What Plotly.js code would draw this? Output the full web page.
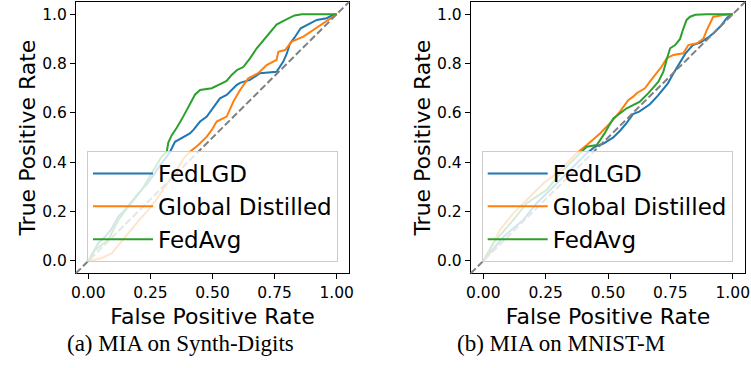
<!DOCTYPE html>
<html>
<head>
<meta charset="utf-8">
<script src="https://cdn.plot.ly/plotly-3.0.1.min.js"></script>
<style>html,body{margin:0;padding:0;background:#fff;}#chart{width:751px;height:368px;}</style>
</head>
<body>
<div id="chart"></div>
<script>
// ---------- data ----------
const seriesNames = ["FedLGD", "Global Distilled", "FedAvg"];
const seriesColors = ["#1f77b4", "#ff7f0e", "#2ca02c"];
const xTickVals = [0, 0.25, 0.5, 0.75, 1];
const xTickText = ["0.00", "0.25", "0.50", "0.75", "1.00"];
const yTickVals = [0, 0.2, 0.4, 0.6, 0.8, 1.0];
const yTickText = ["0.0", "0.2", "0.4", "0.6", "0.8", "1.0"];
const captions = ["(a) MIA on Synth-Digits", "(b) MIA on MNIST-M"];
const axisTitleX = "False Positive Rate";
const axisTitleY = "True Positive Rate";

// (a) Synth-Digits
const synthFedLGD_fpr = [0, 0.04, 0.067, 0.09, 0.121, 0.15, 0.201, 0.235, 0.268, 0.29, 0.316, 0.329, 0.349, 0.389, 0.409, 0.423, 0.45, 0.477, 0.5, 0.53, 0.557, 0.597, 0.611, 0.651, 0.691, 0.758, 0.785, 0.799, 0.812, 0.83, 0.855, 0.893, 0.92, 0.96, 0.985, 1];
const synthFedLGD_tpr = [0, 0.072, 0.098, 0.125, 0.18, 0.21, 0.274, 0.31, 0.355, 0.39, 0.423, 0.443, 0.483, 0.504, 0.517, 0.531, 0.565, 0.585, 0.619, 0.659, 0.673, 0.713, 0.722, 0.734, 0.761, 0.767, 0.808, 0.84, 0.882, 0.905, 0.943, 0.962, 0.977, 0.984, 0.997, 1];
const synthGD_fpr = [0, 0.05, 0.094, 0.148, 0.2, 0.242, 0.275, 0.309, 0.35, 0.389, 0.409, 0.443, 0.477, 0.497, 0.517, 0.557, 0.584, 0.611, 0.644, 0.684, 0.718, 0.758, 0.765, 0.792, 0.819, 0.866, 0.906, 0.946, 0.986, 1];
const synthGD_tpr = [0, 0.01, 0.031, 0.098, 0.16, 0.207, 0.25, 0.301, 0.36, 0.423, 0.443, 0.47, 0.504, 0.531, 0.565, 0.585, 0.646, 0.693, 0.74, 0.761, 0.794, 0.815, 0.848, 0.855, 0.889, 0.909, 0.936, 0.963, 0.99, 1];
const synthFedAvg_fpr = [0, 0.027, 0.08, 0.121, 0.161, 0.215, 0.255, 0.295, 0.316, 0.322, 0.336, 0.356, 0.382, 0.409, 0.43, 0.45, 0.497, 0.537, 0.557, 0.577, 0.6, 0.624, 0.651, 0.678, 0.718, 0.74, 0.758, 0.78, 0.8, 0.83, 0.86, 1];
const synthFedAvg_tpr = [0, 0.045, 0.085, 0.166, 0.22, 0.288, 0.355, 0.423, 0.443, 0.48, 0.51, 0.54, 0.585, 0.639, 0.675, 0.693, 0.70, 0.72, 0.73, 0.754, 0.775, 0.786, 0.821, 0.862, 0.909, 0.935, 0.958, 0.97, 0.98, 0.995, 1, 1];

// (b) MNIST-M
const mnistFedLGD_fpr = [0, 0.081, 0.16, 0.214, 0.281, 0.348, 0.415, 0.448, 0.48, 0.52, 0.55, 0.575, 0.6, 0.625, 0.668, 0.7, 0.74, 0.762, 0.785, 0.81, 0.84, 0.87, 0.9, 0.925, 0.95, 0.976, 0.99, 1];
const mnistFedLGD_tpr = [0, 0.098, 0.166, 0.234, 0.301, 0.369, 0.437, 0.463, 0.475, 0.5, 0.53, 0.56, 0.595, 0.605, 0.635, 0.67, 0.72, 0.76, 0.8, 0.84, 0.875, 0.885, 0.905, 0.925, 0.95, 0.984, 0.997, 1];
const mnistGD_fpr = [0, 0.027, 0.067, 0.12, 0.174, 0.241, 0.294, 0.348, 0.374, 0.415, 0.455, 0.468, 0.515, 0.548, 0.581, 0.601, 0.615, 0.648, 0.668, 0.695, 0.715, 0.735, 0.762, 0.802, 0.822, 0.856, 0.882, 0.896, 0.909, 0.922, 0.936, 0.962, 1];
const mnistGD_tpr = [0, 0.045, 0.126, 0.193, 0.247, 0.315, 0.355, 0.409, 0.437, 0.47, 0.504, 0.517, 0.565, 0.605, 0.652, 0.666, 0.68, 0.7, 0.727, 0.761, 0.788, 0.821, 0.835, 0.842, 0.875, 0.882, 0.9, 0.936, 0.96, 0.99, 0.992, 0.997, 1];
const mnistFedAvg_fpr = [0, 0.04, 0.12, 0.174, 0.254, 0.321, 0.388, 0.415, 0.455, 0.485, 0.521, 0.575, 0.628, 0.662, 0.702, 0.722, 0.735, 0.749, 0.769, 0.789, 0.8, 0.815, 0.829, 0.85, 0.896, 1];
const mnistFedAvg_tpr = [0, 0.072, 0.166, 0.234, 0.288, 0.369, 0.437, 0.463, 0.47, 0.515, 0.578, 0.619, 0.646, 0.68, 0.727, 0.767, 0.815, 0.862, 0.875, 0.9, 0.936, 0.977, 0.99, 0.998, 1, 1];

// ---------- build ----------
const panels = [
  {fpr: [synthFedLGD_fpr, synthGD_fpr, synthFedAvg_fpr], tpr: [synthFedLGD_tpr, synthGD_tpr, synthFedAvg_tpr], xa: "x", ya: "y", legend: "legend"},
  {fpr: [mnistFedLGD_fpr, mnistGD_fpr, mnistFedAvg_fpr], tpr: [mnistFedLGD_tpr, mnistGD_tpr, mnistFedAvg_tpr], xa: "x2", ya: "y2", legend: "legend2"}
];
const traces = [];
panels.forEach(p => {
  for (let i = 0; i < 3; i++) {
    traces.push({
      type: "scatter", mode: "lines",
      x: p.fpr[i], y: p.tpr[i], name: seriesNames[i],
      xaxis: p.xa, yaxis: p.ya, legend: p.legend,
      line: {color: seriesColors[i], width: 2}
    });
  }
});

const FONT = "DejaVu Sans, sans-serif";
function xAxis(domain, anchor) {
  return {
    domain: domain, anchor: anchor, range: [-0.05, 1.05],
    tickmode: "array", tickvals: xTickVals, ticktext: xTickText,
    ticks: "outside", ticklen: 5, tickwidth: 1, tickcolor: "#000",
    showline: true, mirror: true, linecolor: "#000", linewidth: 1,
    showgrid: false, zeroline: false,
    tickfont: {family: FONT, size: 15.5, color: "#000"},
    title: {text: axisTitleX, font: {family: FONT, size: 22, color: "#000"}, standoff: 7}
  };
}
function yAxis(domain, anchor) {
  return {
    domain: domain, anchor: anchor, range: [-0.05, 1.05],
    tickmode: "array", tickvals: yTickVals, ticktext: yTickText,
    ticks: "outside", ticklen: 5, tickwidth: 1, tickcolor: "#000",
    showline: true, mirror: true, linecolor: "#000", linewidth: 1,
    showgrid: false, zeroline: false,
    tickfont: {family: FONT, size: 15.5, color: "#000"},
    title: {text: axisTitleY, font: {family: FONT, size: 22, color: "#000"}, standoff: 0}
  };
}
function legendBox(x) {
  return {
    x: x, y: 1 - 151 / 368, xanchor: "left", yanchor: "top",
    bgcolor: "rgba(255,255,255,0.8)", bordercolor: "#cccccc", borderwidth: 1,
    font: {family: FONT, size: 23, color: "#000"},
    tracegroupgap: 0, itemwidth: 60
  };
}
const diag = (xr, yr) => ({
  type: "line", xref: xr + " domain", yref: yr + " domain",
  x0: 0, y0: 0, x1: 1, y1: 1, layer: "above",
  line: {color: "#808080", width: 2, dash: "7px,3px"}
});

const layout = {
  width: 751, height: 368,
  margin: {l: 0, r: 0, t: 0, b: 0},
  paper_bgcolor: "#fff", plot_bgcolor: "#fff",
  font: {family: FONT, color: "#000"},
  showlegend: true,
  xaxis: xAxis([75.9 / 751, 349.1 / 751], "y"),
  yaxis: yAxis([1 - 273.3 / 368, 1 - 1.9 / 368], "x"),
  xaxis2: xAxis([470.8 / 751, 745.2 / 751], "y2"),
  yaxis2: yAxis([1 - 273.3 / 368, 1 - 1.9 / 368], "x2"),
  legend: legendBox(87 / 751),
  legend2: legendBox(481.7 / 751),
  shapes: [diag("x", "y"), diag("x2", "y2")],
  annotations: [
    {text: captions[0], xref: "paper", yref: "paper", x: 180 / 751, y: 1 - 343 / 368, xanchor: "center", yanchor: "middle", showarrow: false, font: {family: "Liberation Serif, Times New Roman, serif", size: 23, color: "#000"}},
    {text: captions[1], xref: "paper", yref: "paper", x: 561 / 751, y: 1 - 343 / 368, xanchor: "center", yanchor: "middle", showarrow: false, font: {family: "Liberation Serif, Times New Roman, serif", size: 23, color: "#000"}}
  ]
};

Plotly.newPlot("chart", traces, layout, {staticPlot: true, displayModeBar: false});
</script>
</body>
</html>
